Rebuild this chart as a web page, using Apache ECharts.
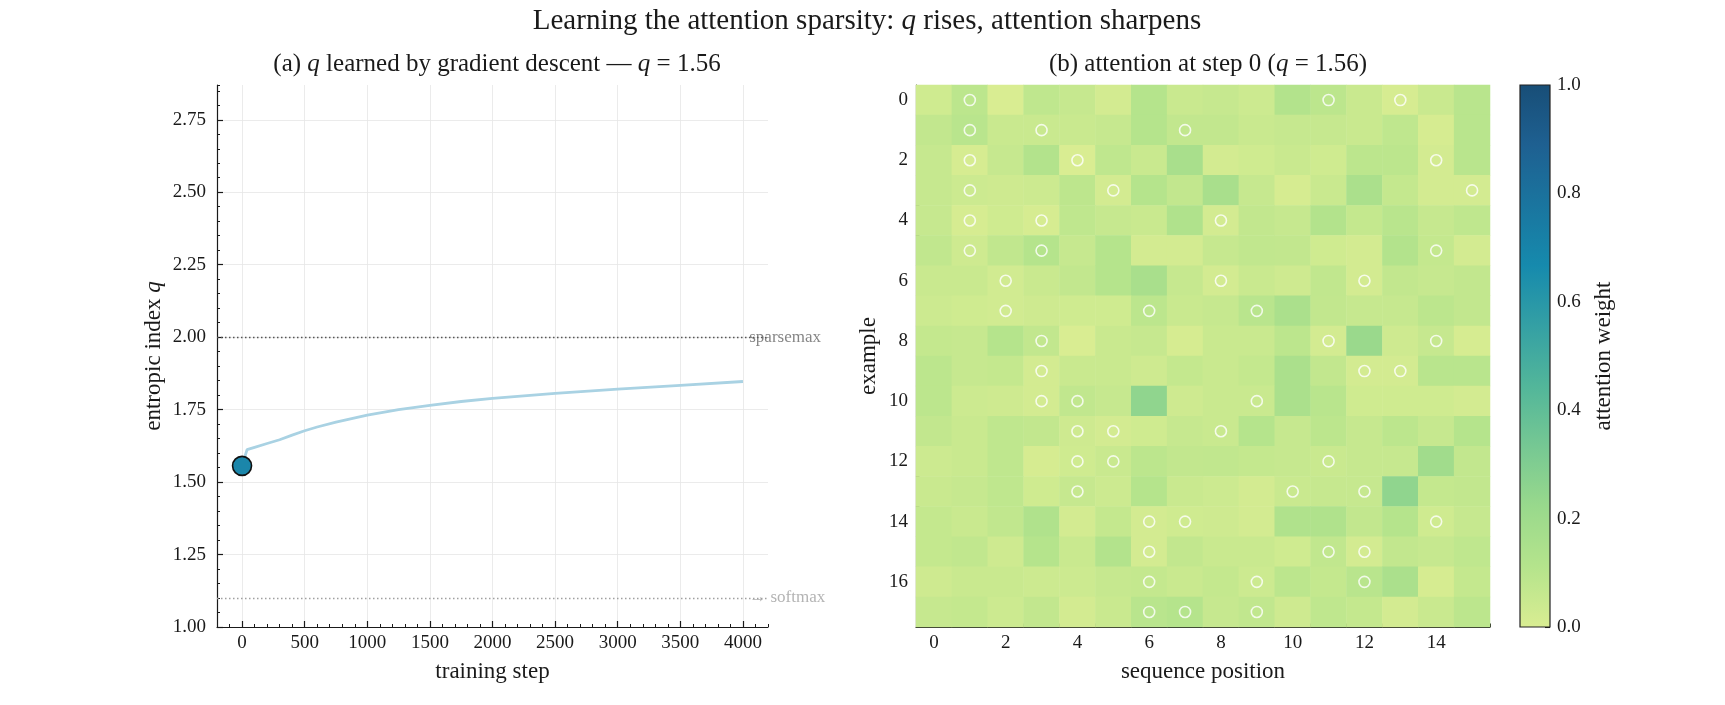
<!DOCTYPE html>
<html>
<head>
<meta charset="utf-8">
<title>attention sparsity</title>
<script src="https://cdn.jsdelivr.net/npm/echarts@6/dist/echarts.min.js"></script>
<style>
    html, body { margin: 0; padding: 0; background: #fff; }
    #myChart { width: 1725px; height: 705px; }
</style>
</head>
<body>
<div id="myChart"></div>
<script>
// learned q over training
var steps   = [0, 40, 100, 200, 300, 400, 500, 600, 750, 1000, 1250, 1500, 1750, 2000, 2500, 3000, 3500, 4000];
var qValues = [1.556, 1.612, 1.620, 1.633, 1.646, 1.662, 1.677, 1.690, 1.707, 1.731, 1.750, 1.765, 1.778, 1.789, 1.806, 1.821, 1.834, 1.847];
var stepNow = 0;
var qNow = 1.556;
var xTicks = [0, 500, 1000, 1500, 2000, 2500, 3000, 3500, 4000];
var yTicks = [1.00, 1.25, 1.50, 1.75, 2.00, 2.25, 2.50, 2.75];
var refValues = [2.0, 1.1];
var refNames = ['sparsemax', '\u2192 softmax'];

// attention at step 0: rows = examples, cols = sequence positions
var positions = [0, 1, 2, 3, 4, 5, 6, 7, 8, 9, 10, 11, 12, 13, 14, 15];
var examples = [0, 1, 2, 3, 4, 5, 6, 7, 8, 9, 10, 11, 12, 13, 14, 15, 16, 17];
var attention = [
    [0.03, 0.09, 0.00, 0.08, 0.06, 0.02, 0.11, 0.05, 0.06, 0.04, 0.12, 0.09, 0.05, 0.01, 0.05, 0.10],
    [0.07, 0.10, 0.05, 0.05, 0.05, 0.06, 0.11, 0.07, 0.07, 0.05, 0.06, 0.06, 0.05, 0.08, 0.01, 0.10],
    [0.06, 0.01, 0.06, 0.12, 0.00, 0.08, 0.05, 0.16, 0.02, 0.03, 0.05, 0.03, 0.09, 0.09, 0.02, 0.10],
    [0.06, 0.04, 0.035, 0.04, 0.085, 0.02, 0.11, 0.07, 0.16, 0.06, 0.01, 0.05, 0.15, 0.065, 0.02, 0.02],
    [0.06, 0.01, 0.03, 0.01, 0.08, 0.06, 0.05, 0.13, 0.02, 0.07, 0.06, 0.12, 0.065, 0.10, 0.06, 0.08],
    [0.075, 0.035, 0.075, 0.11, 0.06, 0.11, 0.02, 0.02, 0.06, 0.075, 0.07, 0.03, 0.02, 0.12, 0.065, 0.02],
    [0.05, 0.05, 0.025, 0.05, 0.07, 0.11, 0.16, 0.06, 0.02, 0.05, 0.035, 0.075, 0.02, 0.07, 0.06, 0.07],
    [0.04, 0.03, 0.025, 0.035, 0.03, 0.03, 0.09, 0.05, 0.06, 0.10, 0.15, 0.07, 0.06, 0.06, 0.09, 0.07],
    [0.065, 0.06, 0.11, 0.07, 0.00, 0.05, 0.06, 0.01, 0.05, 0.05, 0.09, 0.02, 0.22, 0.035, 0.06, 0.01],
    [0.09, 0.06, 0.065, 0.02, 0.05, 0.05, 0.035, 0.065, 0.05, 0.065, 0.15, 0.07, 0.02, 0.02, 0.10, 0.10],
    [0.09, 0.04, 0.035, 0.02, 0.075, 0.06, 0.25, 0.035, 0.05, 0.05, 0.15, 0.10, 0.03, 0.03, 0.03, 0.02],
    [0.07, 0.05, 0.08, 0.07, 0.035, 0.02, 0.03, 0.06, 0.05, 0.11, 0.06, 0.09, 0.06, 0.09, 0.06, 0.11],
    [0.04, 0.05, 0.08, 0.01, 0.03, 0.05, 0.09, 0.07, 0.075, 0.065, 0.06, 0.05, 0.06, 0.06, 0.19, 0.07],
    [0.05, 0.06, 0.08, 0.03, 0.06, 0.04, 0.11, 0.05, 0.04, 0.02, 0.05, 0.06, 0.06, 0.25, 0.065, 0.07],
    [0.065, 0.05, 0.075, 0.13, 0.02, 0.065, 0.02, 0.03, 0.035, 0.02, 0.13, 0.13, 0.07, 0.11, 0.03, 0.06],
    [0.065, 0.075, 0.035, 0.11, 0.05, 0.12, 0.02, 0.07, 0.05, 0.05, 0.03, 0.075, 0.02, 0.07, 0.06, 0.08],
    [0.035, 0.05, 0.05, 0.04, 0.04, 0.06, 0.065, 0.05, 0.065, 0.04, 0.09, 0.065, 0.10, 0.15, 0.01, 0.065],
    [0.06, 0.065, 0.04, 0.07, 0.02, 0.05, 0.10, 0.11, 0.06, 0.075, 0.035, 0.08, 0.065, 0.02, 0.05, 0.09]
];
// marked positions per example (white rings)
var targets = [
    [1, 11, 13], [1, 3, 7], [1, 4, 14], [1, 5, 15], [1, 3, 8], [1, 3, 14],
    [2, 8, 12], [2, 6, 9], [3, 11, 14], [3, 12, 13], [3, 4, 9], [4, 5, 8],
    [4, 5, 11], [4, 10, 12], [6, 7, 14], [6, 11, 12], [6, 9, 12], [6, 7, 9]
];
var cmap = ['#d9ed92', '#b5e48c', '#99d98c', '#76c893', '#52b69a', '#34a0a4', '#168aad', '#1a759f', '#1e6091', '#184e77'];

var serif = 'Liberation Serif';
var ink = '#1a1a1a';
var tickSize = 19;
var labelSize = 23;
var titleSize = 25;
var supSize = 29;

var lineData = steps.map(function (s, i) { return [s, qValues[i]]; });
var heatData = [];
attention.forEach(function (row, r) {
    row.forEach(function (v, c) { heatData.push([c, r, v]); });
});
var ringData = [];
targets.forEach(function (cols, r) {
    cols.forEach(function (c) { ringData.push([c, r]); });
});
var refLabelX = 4050;
var refColors = ['#666', '#a0a0a0'];
var refLabelData = refValues.map(function (v, i) {
    return { value: [refLabelX, v], name: refNames[i], label: { color: refColors[i] } };
});
var gradStops = cmap.map(function (c, i) { return { offset: i / (cmap.length - 1), color: c }; });

var italic = { fontStyle: 'italic', fontFamily: serif };
var axisLine = { show: true, onZero: false, lineStyle: { color: ink, width: 1.2 } };
var noLine = { show: false, onZero: false };

var myChart = echarts.init(document.getElementById('myChart'));
myChart.setOption({
    animation: false,
    backgroundColor: '#fff',
    textStyle: { fontFamily: serif, color: ink },
    title: [
        {
            text: 'Learning the attention sparsity: {i|q} rises, attention sharpens',
            left: 862, top: 2, textAlign: 'center',
            textStyle: { fontFamily: serif, fontSize: supSize, fontWeight: 'normal', color: ink,
                rich: { i: Object.assign({ fontSize: supSize }, italic) } }
        },
        {
            text: '(a) {i|q} learned by gradient descent \u2014 {i|q} = ' + qNow.toFixed(2),
            left: 492, top: 47, textAlign: 'center',
            textStyle: { fontFamily: serif, fontSize: titleSize, fontWeight: 'normal', color: ink,
                rich: { i: Object.assign({ fontSize: titleSize }, italic) } }
        },
        {
            text: '(b) attention at step ' + stepNow + ' ({i|q} = ' + qNow.toFixed(2) + ')',
            left: 1203, top: 47, textAlign: 'center',
            textStyle: { fontFamily: serif, fontSize: titleSize, fontWeight: 'normal', color: ink,
                rich: { i: Object.assign({ fontSize: titleSize }, italic) } }
        }
    ],
    grid: [
        { left: 217, top: 85, width: 551, height: 542 },
        { left: 916, top: 85, width: 574, height: 542 },
        { left: 1520, top: 85, width: 30, height: 542 }
    ],
    visualMap: {
        show: false, type: 'continuous', min: 0, max: 1, dimension: 2, seriesIndex: 3,
        inRange: { color: cmap }
    },
    xAxis: [
        {   // minor ticks + spine
            gridIndex: 0, type: 'value', min: -200, max: 4200, interval: 100, position: 'bottom',
            axisLine: axisLine,
            axisTick: { inside: true, length: 3, lineStyle: { color: ink, width: 1 } },
            axisLabel: { show: false }, splitLine: { show: false }
        },
        {   // major ticks, labels, grid
            gridIndex: 0, type: 'value', min: -200, max: 4200, position: 'bottom',
            name: 'training step', nameLocation: 'middle', nameGap: 33,
            nameTextStyle: { fontFamily: serif, fontSize: labelSize, color: ink },
            axisLine: noLine,
            axisTick: { inside: true, length: 6, customValues: xTicks, lineStyle: { color: ink, width: 1.2 } },
            axisLabel: { customValues: xTicks, fontFamily: serif, fontSize: tickSize, color: ink, margin: 7,
                formatter: function (v) { return String(v); } },
            splitLine: { show: true, lineStyle: { color: '#e6e6e6', width: 0.8 } }
        },
        {
            gridIndex: 1, type: 'category', data: positions, position: 'bottom',
            name: 'sequence position', nameLocation: 'middle', nameGap: 33,
            nameTextStyle: { fontFamily: serif, fontSize: labelSize, color: ink },
            axisLine: axisLine,
            axisTick: { inside: true, alignWithLabel: true, interval: 1, length: 7, lineStyle: { color: ink, width: 1.2 } },
            axisLabel: { interval: 1, fontFamily: serif, fontSize: tickSize, color: ink, margin: 7 },
            splitLine: { show: false }
        },
        {
            gridIndex: 1, type: 'value', min: -0.5, max: 15.5, interval: 0.5, position: 'bottom',
            axisLine: noLine,
            axisTick: { inside: true, length: 3.5, lineStyle: { color: ink, width: 1 } },
            axisLabel: { show: false }, splitLine: { show: false }
        },
        { gridIndex: 2, type: 'value', min: 0, max: 1, show: false }
    ],
    yAxis: [
        {
            gridIndex: 0, type: 'value', min: 1, max: 2.87, interval: 0.05, position: 'left',
            axisLine: axisLine,
            axisTick: { inside: true, length: 3, lineStyle: { color: ink, width: 1 } },
            axisLabel: { show: false }, splitLine: { show: false }
        },
        {
            gridIndex: 0, type: 'value', min: 1, max: 2.87, position: 'left',
            name: 'entropic index {i|q}', nameLocation: 'middle', nameGap: 52, nameRotate: 90,
            nameTextStyle: { fontFamily: serif, fontSize: labelSize, color: ink,
                rich: { i: Object.assign({ fontSize: labelSize }, italic) } },
            axisLine: noLine,
            axisTick: { inside: true, length: 6, customValues: yTicks, lineStyle: { color: ink, width: 1.2 } },
            axisLabel: { customValues: yTicks, fontFamily: serif, fontSize: tickSize, color: ink, margin: 11,
                formatter: function (v) { return v.toFixed(2); } },
            splitLine: { show: true, lineStyle: { color: '#e6e6e6', width: 0.8 } }
        },
        {
            gridIndex: 1, type: 'category', data: examples, inverse: true, position: 'left',
            name: 'example', nameLocation: 'middle', nameGap: 36, nameRotate: 90,
            nameTextStyle: { fontFamily: serif, fontSize: labelSize, color: ink },
            axisLine: axisLine,
            axisTick: { inside: true, alignWithLabel: true, interval: 1, length: 7, lineStyle: { color: ink, width: 1.2 } },
            axisLabel: { interval: 1, fontFamily: serif, fontSize: tickSize, color: ink, margin: 8 },
            splitLine: { show: false }
        },
        {
            gridIndex: 1, type: 'value', min: -0.5, max: 17.5, interval: 0.5, inverse: true, position: 'left',
            axisLine: noLine,
            axisTick: { inside: true, length: 3.5, lineStyle: { color: ink, width: 1 } },
            axisLabel: { show: false }, splitLine: { show: false }
        },
        {
            gridIndex: 2, type: 'value', min: 0, max: 1, interval: 0.2, position: 'right',
            name: 'attention weight', nameLocation: 'middle', nameGap: 42, nameRotate: 90,
            nameTextStyle: { fontFamily: serif, fontSize: labelSize, color: ink },
            axisLine: noLine,
            axisTick: { inside: true, length: 5, lineStyle: { color: ink, width: 1.1 } },
            minorTick: { show: true, splitNumber: 4, length: 3, lineStyle: { color: ink, width: 0.8 } },
            axisLabel: { fontFamily: serif, fontSize: tickSize, color: ink, margin: 7,
                formatter: function (v) { return v.toFixed(1); } },
            splitLine: { show: false }
        }
    ],
    series: [
        {
            type: 'line', xAxisIndex: 0, yAxisIndex: 0, data: lineData,
            showSymbol: false, z: 3,
            lineStyle: { color: '#a9d2e3', width: 2.8 },
            markLine: {
                silent: true, symbol: 'none', label: { show: false },
                data: [
                    { yAxis: refValues[0], lineStyle: { color: '#555', type: [1.5, 2.5], width: 1.3 } },
                    { yAxis: refValues[1], lineStyle: { color: '#a0a0a0', type: [1.5, 2.5], width: 1.3 } }
                ]
            }
        },
        {
            type: 'scatter', xAxisIndex: 0, yAxisIndex: 0, data: [[stepNow, qNow]], z: 5,
            symbolSize: 19,
            itemStyle: { color: '#1b86aa', borderColor: '#111', borderWidth: 1.6, opacity: 1 }
        },
        {
            type: 'scatter', xAxisIndex: 0, yAxisIndex: 0, data: refLabelData, z: 4,
            symbolSize: 0, silent: true,
            label: { show: true, position: 'right', distance: 0, formatter: '{b}',
                fontFamily: serif, fontSize: 17 }
        },
        {
            type: 'heatmap', xAxisIndex: 2, yAxisIndex: 2, data: heatData,
            itemStyle: { borderWidth: 0 }, progressive: 0
        },
        {
            type: 'scatter', xAxisIndex: 2, yAxisIndex: 2, data: ringData, z: 5,
            symbol: 'circle', symbolSize: 11, silent: true,
            itemStyle: { color: 'rgba(0,0,0,0)', borderColor: '#fff', borderWidth: 1.6 }
        },
        {
            type: 'custom', xAxisIndex: 4, yAxisIndex: 4, data: [[0, 0]],
            renderItem: function (params, api) {
                var p0 = api.coord([0, 0]);
                var p1 = api.coord([1, 1]);
                return {
                    type: 'rect',
                    shape: { x: p0[0], y: p1[1], width: p1[0] - p0[0], height: p0[1] - p1[1] },
                    style: {
                        fill: new echarts.graphic.LinearGradient(0, 1, 0, 0, gradStops),
                        stroke: '#222', lineWidth: 1.2
                    }
                };
            }
        }
    ]
});
</script>
</body>
</html>
